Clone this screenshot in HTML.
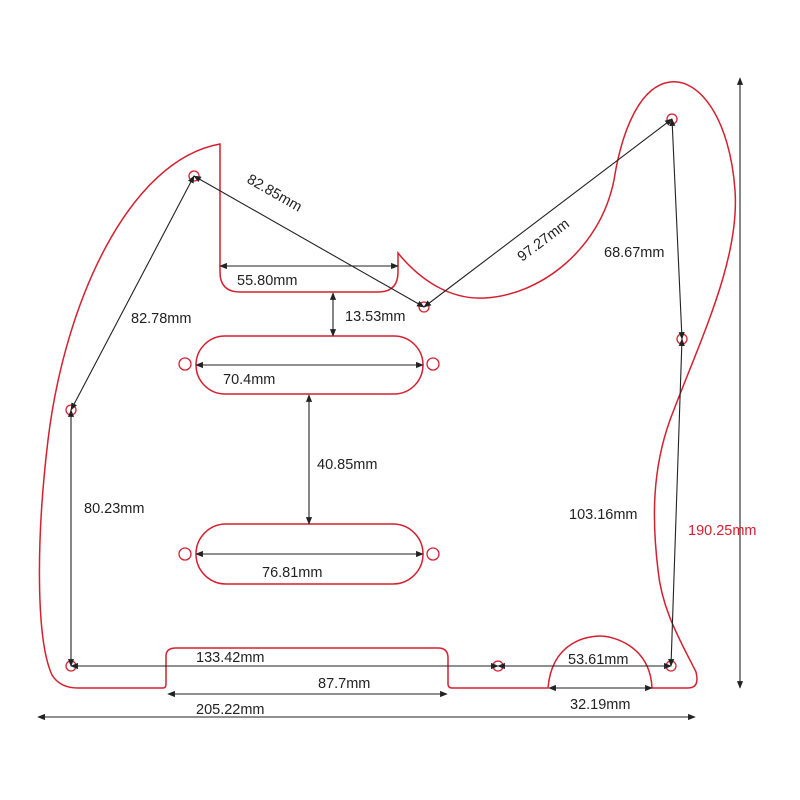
<!DOCTYPE html>
<html><head><meta charset="utf-8"><style>body{margin:0;background:#fff}svg{display:block}text{font-family:"Liberation Sans",sans-serif;font-size:14.5px;fill:#222}</style></head><body>
<svg width="800" height="800" viewBox="0 0 800 800">
<defs><marker id="a" viewBox="0 0 10 10" refX="9" refY="5" markerWidth="7" markerHeight="7" orient="auto-start-reverse"><path d="M0,1 L10,5 L0,9 z" fill="#222"/></marker></defs>
<g fill="none" stroke="#d42030" stroke-width="1.5">
<path d="M220,144 C130,160 65,300 48,440 C36,540 36,640 52,675 Q60,688 78,688 L163,688 Q166,688 166,684 L166,656 Q166,648 176,648 L438,648 Q448,648 448,658 L448,684 Q448,688 452,688 L548,688 C552,640 590,636 600,636 C612,636 650,645 652,688 L688,688 Q700,688 696,672 C680,640 662,610 658,570 C652,520 652,470 670,420 C700,340 740,260 735,190 C730,120 700,78 670,82 C640,86 622,130 614,180 C600,250 540,295 485,298 C450,300 420,280 398,253 L398,272 Q398,292 378,292 L240,292 Q220,292 220,272 Z"/>
<rect x="196" y="336" width="227" height="58" rx="29"/>
<rect x="196" y="524" width="227" height="60" rx="30"/>
<g stroke-width="1.3"><circle cx="194" cy="176" r="5"/><circle cx="424" cy="307" r="5"/><circle cx="672" cy="119" r="5"/><circle cx="682" cy="339" r="5"/><circle cx="71" cy="410" r="5"/><circle cx="71" cy="666" r="5"/><circle cx="498" cy="666" r="5"/><circle cx="671" cy="666" r="5"/><circle cx="185" cy="364" r="6"/><circle cx="433" cy="364" r="6"/><circle cx="185" cy="554" r="6"/><circle cx="433" cy="554" r="6"/></g>
</g>
<g stroke="#222" stroke-width="1.1" marker-start="url(#a)" marker-end="url(#a)">
<line x1="194" y1="176" x2="424" y2="307"/>
<line x1="424" y1="307" x2="672" y2="119"/>
<line x1="672" y1="119" x2="682" y2="339"/>
<line x1="682" y1="339" x2="671" y2="666"/>
<line x1="194" y1="176" x2="71" y2="410"/>
<line x1="71" y1="410" x2="71" y2="666"/>
<line x1="71" y1="666" x2="498" y2="666"/>
<line x1="498" y1="666" x2="671" y2="666"/>
<line x1="220" y1="266" x2="398" y2="266"/>
<line x1="333" y1="293" x2="333" y2="336"/>
<line x1="196" y1="365" x2="423" y2="365"/>
<line x1="309" y1="395" x2="309" y2="524"/>
<line x1="196" y1="554" x2="423" y2="554"/>
<line x1="168" y1="694" x2="447" y2="694"/>
<line x1="549" y1="688" x2="652" y2="688"/>
<line x1="38" y1="717" x2="695" y2="717"/>
<line x1="740" y1="78" x2="740" y2="688"/>
</g>
<text x="246" y="182" transform="rotate(29.7 246 182)">82.85mm</text>
<text x="522" y="262" transform="rotate(-37 522 262)">97.27mm</text>
<text x="604" y="257">68.67mm</text>
<text x="237" y="285">55.80mm</text>
<text x="345" y="321">13.53mm</text>
<text x="131" y="323">82.78mm</text>
<text x="223" y="384">70.4mm</text>
<text x="317" y="469">40.85mm</text>
<text x="84" y="513">80.23mm</text>
<text x="569" y="519">103.16mm</text>
<text x="688" y="535" style="fill:#d42030">190.25mm</text>
<text x="262" y="577">76.81mm</text>
<text x="196" y="662">133.42mm</text>
<text x="568" y="664">53.61mm</text>
<text x="318" y="688">87.7mm</text>
<text x="570" y="709">32.19mm</text>
<text x="196" y="714">205.22mm</text>
</svg>
</body></html>
